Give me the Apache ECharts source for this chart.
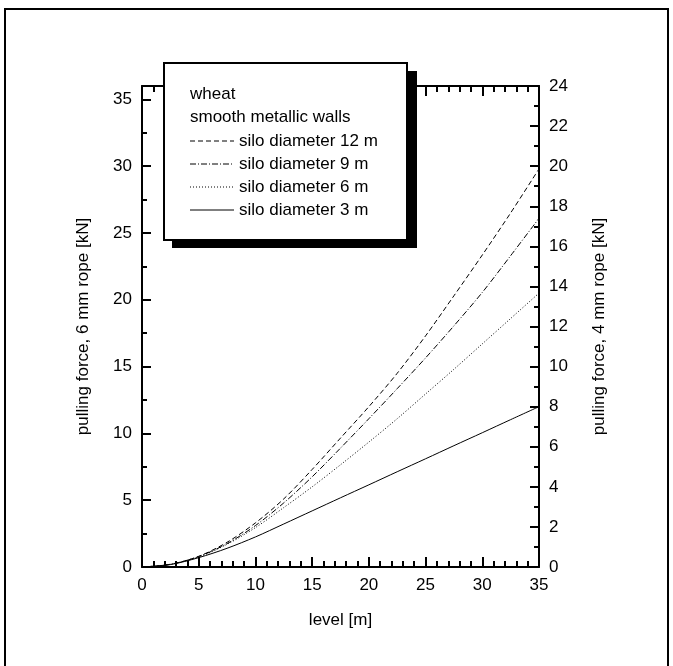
<!DOCTYPE html>
<html lang="en">
<head>
    <meta charset="UTF-8">
    <title>pulling force</title>
    <style>
        html, body { margin: 0; padding: 0; background: #fff; }
    </style>
</head>
<body>
<div id="main" style="width: 673px;height:666px;"></div>
<script src="https://cdn.jsdelivr.net/npm/echarts@6/dist/echarts.min.js"></script>
<script>
    // level [m]
    var levels = [0, 2.5, 5, 7.5, 10, 12.5, 15, 17.5, 20, 22.5, 25, 27.5, 30, 32.5, 35];
    // pulling force, 6 mm rope [kN]
    var dia12 = [0, 0.2, 0.8, 1.85, 3.3, 5.1, 7.3, 9.65, 12.0, 14.5, 17.3, 20.3, 23.35, 26.5, 29.8];
    var dia9 = [0, 0.2, 0.78, 1.75, 3.1, 4.8, 6.75, 8.9, 11.1, 13.35, 15.65, 18.05, 20.55, 23.3, 26.1];
    var dia6 = [0, 0.2, 0.75, 1.7, 2.95, 4.45, 6.0, 7.65, 9.35, 11.1, 12.95, 14.8, 16.7, 18.6, 20.5];
    var dia3 = [0, 0.18, 0.7, 1.4, 2.25, 3.22, 4.2, 5.18, 6.15, 7.13, 8.1, 9.08, 10.05, 11.03, 12.0];
    var names = ['silo diameter 12 m', 'silo diameter 9 m', 'silo diameter 6 m', 'silo diameter 3 m'];
    var dashes = [[5, 3], [6, 2, 1, 2], [1, 2], null];

    var font = "'Liberation Sans', Arial, sans-serif";
    var allData = [dia12, dia9, dia6, dia3];

    function pairs(ys) {
        var res = [];
        for (var i = 0; i < levels.length; i++) {
            res.push([levels[i], ys[i]]);
        }
        return res;
    }

    var series = [];
    for (var s = 0; s < allData.length; s++) {
        series.push({
            name: names[s],
            type: 'line',
            data: pairs(allData[s]),
            smooth: 0.3,
            showSymbol: false,
            lineStyle: {
                color: '#000',
                width: 1,
                type: dashes[s] ? dashes[s] : 'solid'
            }
        });
    }

    // legend box (drawn as a graphic, on top of the axes)
    var legendItems = [
        {type: 'rect', z: 100, shape: {x: 172, y: 71, width: 245, height: 177}, style: {fill: '#000'}},
        {type: 'rect', z: 101, shape: {x: 164, y: 63, width: 243, height: 177}, style: {fill: '#fff', stroke: '#000', lineWidth: 2}},
        {type: 'text', z: 102, x: 190, y: 94, style: {text: 'wheat', font: '17px ' + font, fill: '#000', verticalAlign: 'middle'}},
        {type: 'text', z: 102, x: 190, y: 117, style: {text: 'smooth metallic walls', font: '17px ' + font, fill: '#000', verticalAlign: 'middle'}}
    ];
    for (var k = 0; k < names.length; k++) {
        var yy = 141 + k * 23;
        legendItems.push({
            type: 'line', z: 102,
            shape: {x1: 190, y1: yy, x2: 234, y2: yy},
            style: {stroke: '#000', lineWidth: 1, lineDash: dashes[k] ? dashes[k] : null}
        });
        legendItems.push({
            type: 'text', z: 102, x: 239, y: yy,
            style: {text: names[k], font: '17px ' + font, fill: '#000', verticalAlign: 'middle'}
        });
    }

    var tickStyle = {color: '#000', width: 2};
    var lineStyle = {color: '#000', width: 2};
    var myChart = echarts.init(document.getElementById('main'));
    var option = {
        backgroundColor: '#fff',
        animation: false,
        grid: {left: 142, right: 134, top: 86, bottom: 99, containLabel: false},
        xAxis: [
            {
                type: 'value', min: 0, max: 35, interval: 5, position: 'bottom',
                name: 'level [m]', nameLocation: 'middle', nameGap: 45,
                nameTextStyle: {color: '#000', fontSize: 17, fontFamily: font},
                axisLine: {show: true, onZero: false, lineStyle: lineStyle},
                axisTick: {show: true, inside: true, length: 10, lineStyle: tickStyle},
                minorTick: {show: true, splitNumber: 5, length: 6, lineStyle: tickStyle},
                axisLabel: {color: '#000', fontSize: 17, fontFamily: font, margin: 10},
                splitLine: {show: false}
            },
            {
                type: 'value', min: 0, max: 35, interval: 5, position: 'top',
                axisLine: {show: true, onZero: false, lineStyle: lineStyle},
                axisTick: {show: true, inside: true, length: 10, lineStyle: tickStyle},
                minorTick: {show: true, splitNumber: 5, length: 6, lineStyle: tickStyle},
                axisLabel: {show: false},
                splitLine: {show: false}
            }
        ],
        yAxis: [
            {
                type: 'value', min: 0, max: 36, interval: 5, position: 'left',
                name: 'pulling force, 6 mm rope [kN]', nameLocation: 'middle', nameGap: 50, nameRotate: 90,
                nameTextStyle: {color: '#000', fontSize: 17, fontFamily: font},
                axisLine: {show: true, onZero: false, lineStyle: lineStyle},
                axisTick: {show: true, inside: true, length: 9, lineStyle: tickStyle},
                minorTick: {show: true, splitNumber: 2, length: 5, lineStyle: tickStyle},
                axisLabel: {
                    color: '#000', fontSize: 17, fontFamily: font, margin: 10,
                    formatter: function (v) { return v % 5 === 0 ? String(v) : ''; }
                },
                splitLine: {show: false}
            },
            {
                type: 'value', min: 0, max: 24, interval: 2, position: 'right',
                name: 'pulling force, 4 mm rope [kN]', nameLocation: 'middle', nameGap: 52, nameRotate: 90,
                nameTextStyle: {color: '#000', fontSize: 17, fontFamily: font},
                axisLine: {show: true, onZero: false, lineStyle: lineStyle},
                axisTick: {show: true, inside: true, length: 9, lineStyle: tickStyle},
                minorTick: {show: true, splitNumber: 2, length: 5, lineStyle: tickStyle},
                axisLabel: {color: '#000', fontSize: 17, fontFamily: font, margin: 10},
                splitLine: {show: false}
            }
        ],
        graphic: [
            {type: 'rect', z: 0, shape: {x: 5, y: 9, width: 663, height: 700}, style: {fill: 'none', stroke: '#000', lineWidth: 2}}
        ].concat(legendItems),
        series: series
    };
    myChart.setOption(option);
</script>
</body>
</html>
